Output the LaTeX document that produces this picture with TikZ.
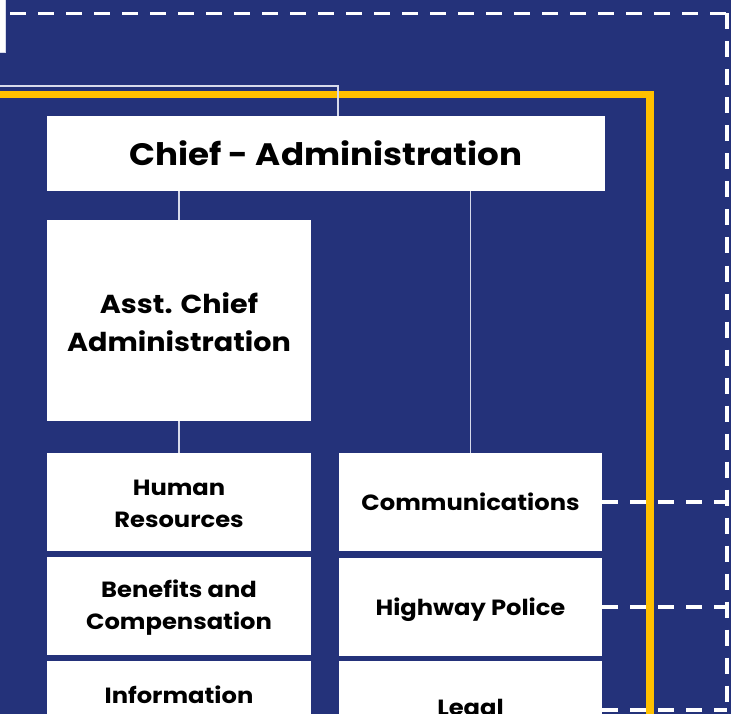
\documentclass[tikz,border=0pt]{standalone}
\usepackage{fontspec}
\setmainfont{Poppins}[FakeStretch=1.1]
\definecolor{navy}{RGB}{36,50,122}
\definecolor{gold}{RGB}{255,192,0}
\definecolor{thinw}{RGB}{215,218,235}
\begin{document}
\begin{tikzpicture}[x=1pt,y=-1pt,
  box/.style={fill=white, draw=none, inner sep=0pt, align=center, font=\bfseries},
  bigfont/.style={font=\fontsize{31}{36}\selectfont\bfseries},
  midfont/.style={font=\fontsize{26}{38}\selectfont\bfseries},
  smallfont/.style={font=\fontsize{22}{32}\selectfont\bfseries},
  thinline/.style={draw=thinw, line width=1.1pt},
  dashline/.style={draw=white, line width=3.2pt, dash pattern=on 16pt off 12pt},
  goldline/.style={draw=gold, line width=7.5pt}]
\useasboundingbox (0,0) rectangle (731,714);
\fill[navy] (0,0) rectangle (731,714);
% top-left partial box
\filldraw[fill=white, draw=thinw, line width=0.8pt] (-5,-5) rectangle (5.5,52);
% outer dashed frame
\coordinate (f0) at (10,13.5);
\coordinate (f1) at (727,13.5);
\coordinate (f2) at (727,760);
\draw[dashline] (f0) -- (f1);
\draw[dashline] (f1) -- (f2);
% gold frame
\draw[goldline] (-3.5,94.5) rectangle (650,800);
% boxes
\node[box, minimum width=558pt, minimum height=75pt] (chief) at (326,153.5) {};
\node[box, minimum width=264pt, minimum height=201pt] (asst) at (179,320.5) {};
\node[box, minimum width=264pt, minimum height=98pt] (hr) at (179,502) {};
\node[box, minimum width=264pt, minimum height=98pt] (ben) at (179,606) {};
\node[box, minimum width=264pt, minimum height=98pt] (info) at (179,710) {};
\node[box, minimum width=263pt, minimum height=98pt] (comm) at (470.5,502) {};
\node[box, minimum width=263pt, minimum height=98pt] (hwy) at (470.5,607) {};
\node[box, minimum width=263pt, minimum height=98pt] (legal) at (470.5,710) {};
% texts
\node[bigfont] (tchief) at (chief) {Chief - Administration};
\node[midfont, align=center] (tasst) at ([yshift=-1.5pt]asst.center) {Asst. Chief\\Administration};
\node[smallfont, align=center] (thr) at ([yshift=-1.5pt]hr.center) {Human\\Resources};
\node[smallfont, align=center] (tben) at ([yshift=-1.5pt]ben.center) {Benefits and\\Compensation};
\node[smallfont] (tinfo) at (179,695) {Information};
\node[smallfont] (tcomm) at (comm) {Communications};
\node[smallfont] (thwy) at ([yshift=-3pt]hwy.center) {Highway Police};
\node[smallfont] (tlegal) at (legal) {Legal};
% connectors
\coordinate (in0) at (0,86);
\coordinate (in1) at (338,86);
\draw[thinline] (in0) -- (in1) -- (in1 |- chief.north);
\draw[thinline] (chief.south -| asst.north) -- (asst.north);
\draw[thinline] (asst.south) -- (hr.north);
\draw[thinline] (chief.south -| comm.north) -- (comm.north);
\draw[dashline] (comm.east) -- (comm.east -| f1);
\draw[dashline] (hwy.east) -- (hwy.east -| f1);
\draw[dashline] (legal.east) -- (legal.east -| f1);
\end{tikzpicture}
\end{document}
